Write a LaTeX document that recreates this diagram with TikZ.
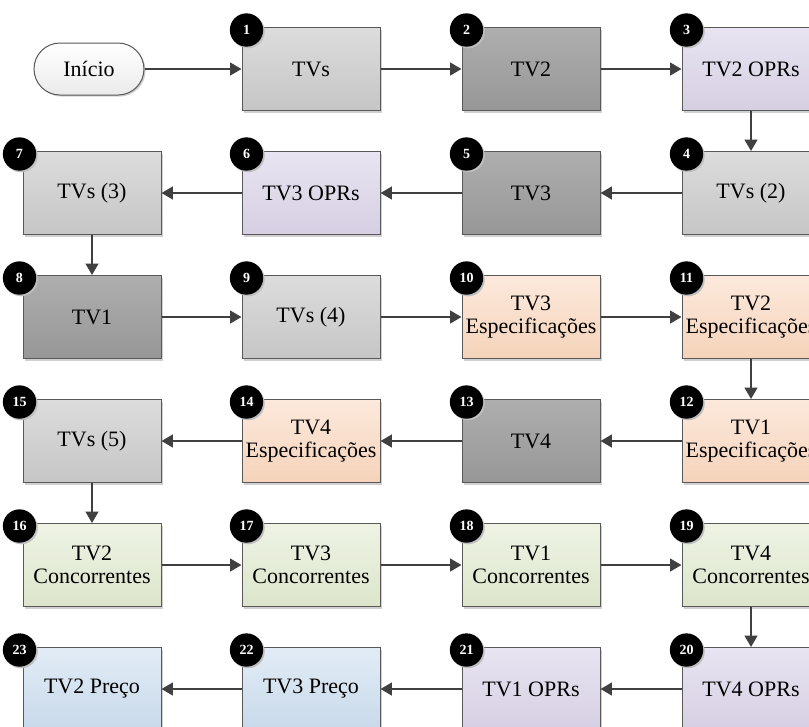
\documentclass[tikz,border=0pt]{standalone}
\usepackage{fontspec}
\setmainfont{Liberation Serif}
\usetikzlibrary{shadows,arrows.meta}
\definecolor{bordc}{HTML}{595959}
\definecolor{arrc}{HTML}{404040}
\definecolor{lgt}{HTML}{DCDCDC}
\definecolor{lgb}{HTML}{C6C6C6}
\definecolor{dgt}{HTML}{AEAEAE}
\definecolor{dgb}{HTML}{979797}
\definecolor{lvt}{HTML}{E8E4F1}
\definecolor{lvb}{HTML}{D6CFE3}
\definecolor{pct}{HTML}{FCE9DC}
\definecolor{pcb}{HTML}{F5D3BA}
\definecolor{grt}{HTML}{EEF3E4}
\definecolor{grb}{HTML}{DCE5CB}
\definecolor{blt}{HTML}{E2ECF6}
\definecolor{blb}{HTML}{C8D9EA}
\definecolor{sht}{HTML}{D0D0D0}
\tikzset{
  box/.style={draw=bordc, line width=0.75pt, minimum width=103.5pt, minimum height=62.25pt,
    align=center, inner sep=0pt, font=\fontsize{16.5}{17.5}\selectfont,
    general shadow={fill=sht, shadow xshift=1.6pt, shadow yshift=-1.6pt}},
  lgray/.style={box, top color=lgt, bottom color=lgb},
  dgray/.style={box, top color=dgt, bottom color=dgb},
  lav/.style={box, top color=lvt, bottom color=lvb},
  peach/.style={box, top color=pct, bottom color=pcb},
  green/.style={box, top color=grt, bottom color=grb},
  blue/.style={box, top color=blt, bottom color=blb},
  term/.style={draw=bordc, line width=0.75pt, minimum width=82.5pt, minimum height=39pt,
    rounded corners=19.5pt, inner sep=0pt, font=\fontsize{16.5}{17.5}\selectfont,
    top color=white, bottom color=black!8,
    general shadow={fill=sht, shadow xshift=1.2pt, shadow yshift=-1.2pt}},
  badge/.style={circle, fill=black, text=white, minimum size=25pt, inner sep=0pt,
    font=\bfseries\fontsize{10.5}{12}\selectfont,
    general shadow={fill=black!25, shadow xshift=1.2pt, shadow yshift=-1.2pt}},
  arr/.style={draw=arrc, line width=1.5pt, -{Triangle[length=8.5pt,width=9.5pt]}}
}
\begin{document}
\begin{tikzpicture}[x=0.75pt,y=-0.75pt]
\useasboundingbox (0,0) rectangle (809,726);
\clip (0,0) rectangle (809,726);
\fill[white] (0,0) rectangle (809,726);
% row 1
\node[term] (start) at (89,69) {Início};
\node[lgray] (n1) at (311,69) {TVs};
\node[dgray] (n2) at (531,69) {TV2};
\node[lav] (n3) at (751,69) {TV2 OPRs};
% row 2
\node[lgray] (n7) at (92,193) {TVs (3)};
\node[lav] (n6) at (311,193) {TV3 OPRs};
\node[dgray] (n5) at (531,193) {TV3};
\node[lgray] (n4) at (751,193) {TVs (2)};
% row 3
\node[dgray] (n8) at (92,317) {TV1};
\node[lgray] (n9) at (311,317) {TVs (4)};
\node[peach] (n10) at (531,317) {TV3\\Especificações};
\node[peach] (n11) at (751,317) {TV2\\Especificações};
% row 4
\node[lgray] (n15) at (92,441) {TVs (5)};
\node[peach] (n14) at (311,441) {TV4\\Especificações};
\node[dgray] (n13) at (531,441) {TV4};
\node[peach] (n12) at (751,441) {TV1\\Especificações};
% row 5
\node[green] (n16) at (92,565) {TV2\\Concorrentes};
\node[green] (n17) at (311,565) {TV3\\Concorrentes};
\node[green] (n18) at (531,565) {TV1\\Concorrentes};
\node[green] (n19) at (751,565) {TV4\\Concorrentes};
% row 6
\node[blue] (n23) at (92,689) {TV2 Preço};
\node[blue] (n22) at (311,689) {TV3 Preço};
\node[lav] (n21) at (531,689) {TV1 OPRs};
\node[lav] (n20) at (751,689) {TV4 OPRs};
% connectors
\draw[arr] (start) -- (n1);
\draw[arr] (n1) -- (n2);
\draw[arr] (n2) -- (n3);
\draw[arr] (n3) -- (n4);
\draw[arr] (n4) -- (n5);
\draw[arr] (n5) -- (n6);
\draw[arr] (n6) -- (n7);
\draw[arr] (n7) -- (n8);
\draw[arr] (n8) -- (n9);
\draw[arr] (n9) -- (n10);
\draw[arr] (n10) -- (n11);
\draw[arr] (n11) -- (n12);
\draw[arr] (n12) -- (n13);
\draw[arr] (n13) -- (n14);
\draw[arr] (n14) -- (n15);
\draw[arr] (n15) -- (n16);
\draw[arr] (n16) -- (n17);
\draw[arr] (n17) -- (n18);
\draw[arr] (n18) -- (n19);
\draw[arr] (n19) -- (n20);
\draw[arr] (n20) -- (n21);
\draw[arr] (n21) -- (n22);
\draw[arr] (n22) -- (n23);
% badges
\foreach \n in {1,2,3,4,5,6,9,10,11,12,13,14,17,18,19,20,21,22}{
  \node[badge] (b\n) at ([shift={(5,3)}]n\n.north west) {\n};
}
\foreach \n in {7,8,15,16,23}{
  \node[badge] (b\n) at ([shift={(-3,3)}]n\n.north west) {\n};
}
\end{tikzpicture}
\end{document}
